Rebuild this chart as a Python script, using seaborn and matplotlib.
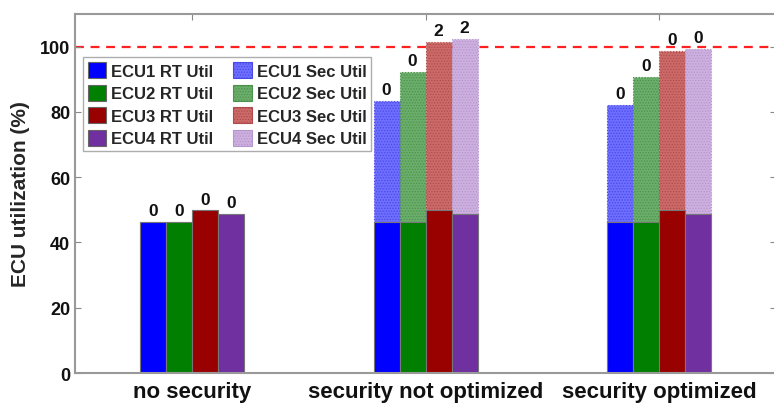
import numpy as np
import pandas as pd
import matplotlib
matplotlib.use("Agg")
import matplotlib.pyplot as plt
import seaborn as sns
from matplotlib.patches import Patch

# ---- data ----
scenarios = ["no security", "security not optimized", "security optimized"]
ecus = ["ECU1", "ECU2", "ECU3", "ECU4"]
rt_util = [46.4, 46.4, 49.8, 48.8]              # real-time utilization per ECU
total_not_opt = [83.5, 92.2, 101.3, 102.4]      # RT + security, not optimized
total_opt = [82.0, 90.8, 98.8, 99.4]            # RT + security, optimized
labels_no_sec = ["0", "0", "0", "0"]
labels_not_opt = ["0", "0", "2", "2"]
labels_opt = ["0", "0", "0", "0"]

rt_colors = ["#0000FF", "#007F00", "#990000", "#7030A0"]
sec_colors = ["#6E6EFF", "#6BAE6B", "#CC6A6A", "#CDB0E0"]
sec_dots = ["#4A4AE8", "#4C924C", "#B04B4B", "#B596CC"]

totals = [rt_util, total_not_opt, total_opt]
value_labels = [labels_no_sec, labels_not_opt, labels_opt]

rows_rt, rows_tot = [], []
for s, tot in zip(scenarios, totals):
    for i, e in enumerate(ecus):
        rows_rt.append({"scenario": s, "ecu": e, "util": rt_util[i]})
        rows_tot.append({"scenario": s, "ecu": e, "util": tot[i]})
df_rt = pd.DataFrame(rows_rt)
df_tot = pd.DataFrame(rows_tot)

sns.set_theme(style="white")
plt.rcParams["font.family"] = ["Liberation Sans", "DejaVu Sans"]
plt.rcParams["font.weight"] = "bold"
plt.rcParams["hatch.linewidth"] = 0.6

fig = plt.figure(figsize=(7.74, 4.06), dpi=100)
ax = fig.add_axes([0.0969, 0.0788, 0.9061, 0.8842])

bar_w = 0.445
# total (RT + security) bars underneath
sns.barplot(data=df_tot, x="scenario", y="util", hue="ecu", order=scenarios,
            hue_order=ecus, palette=sec_colors, width=bar_w, dodge=True,
            errorbar=None, ax=ax, legend=False, saturation=1)
for cont, dot in zip(ax.containers, sec_dots):
    for p in cont:
        p.set_edgecolor(dot)
        p.set_hatch("......")
        p.set_linestyle(":")
        p.set_linewidth(0.8)
n_tot = len(ax.containers)

# real-time bars on top
sns.barplot(data=df_rt, x="scenario", y="util", hue="ecu", order=scenarios,
            hue_order=ecus, palette=rt_colors, width=bar_w, dodge=True,
            errorbar=None, ax=ax, legend=False, saturation=1)
for cont in ax.containers[n_tot:]:
    for p in cont:
        p.set_edgecolor("#777777")
        p.set_linewidth(0.8)

# value labels above each total bar
for k, cont in enumerate(ax.containers[:n_tot]):
    for j, p in enumerate(cont):
        ax.text(p.get_x() + p.get_width() / 2, p.get_height() + 1.2,
                value_labels[j][k], ha="center", va="bottom",
                fontsize=12.5, fontweight="bold", color="#111111")

ax.axhline(100, color="#FF2020", lw=1.6, ls=(0, (4, 3)), zorder=0.5)

ax.set_xlim(-0.5, 2.5)
ax.set_ylim(0, 110)
ax.set_yticks([0, 20, 40, 60, 80, 100])
ax.set_xlabel("")
ax.set_ylabel("ECU utilization (%)", fontsize=15, fontweight="bold", labelpad=7)
ax.tick_params(axis="y", labelsize=13, direction="in", length=4, width=0.8,
               colors="#888888", labelcolor="#111111", right=True, left=True)
ax.tick_params(axis="x", labelsize=16, direction="in", length=4, width=0.8,
               colors="#888888", labelcolor="#111111", top=True, bottom=True,
               pad=6)
for lab in ax.get_xticklabels() + ax.get_yticklabels():
    lab.set_fontweight("bold")
for sp in ax.spines.values():
    sp.set_color("#999999")
    sp.set_linewidth(1.5)

handles = [Patch(facecolor=c, edgecolor="#666666", lw=0.8) for c in rt_colors]
handles += [Patch(facecolor=c, edgecolor=d, hatch="......", lw=0.8)
            for c, d in zip(sec_colors, sec_dots)]
names = [f"{e} RT Util" for e in ecus] + [f"{e} Sec Util" for e in ecus]
leg = ax.legend(handles, names, ncol=2, loc="upper left",
                bbox_to_anchor=(0.011, 0.88), borderaxespad=0,
                fancybox=False, frameon=True,
                prop={"weight": "bold", "size": 12},
                handlelength=1.1, handleheight=1.1, handletextpad=0.3,
                columnspacing=1.2, labelspacing=0.35, borderpad=0.3)
leg.get_frame().set_edgecolor("#999999")
leg.get_frame().set_linewidth(1.0)

fig.savefig("out.png", dpi=100)
